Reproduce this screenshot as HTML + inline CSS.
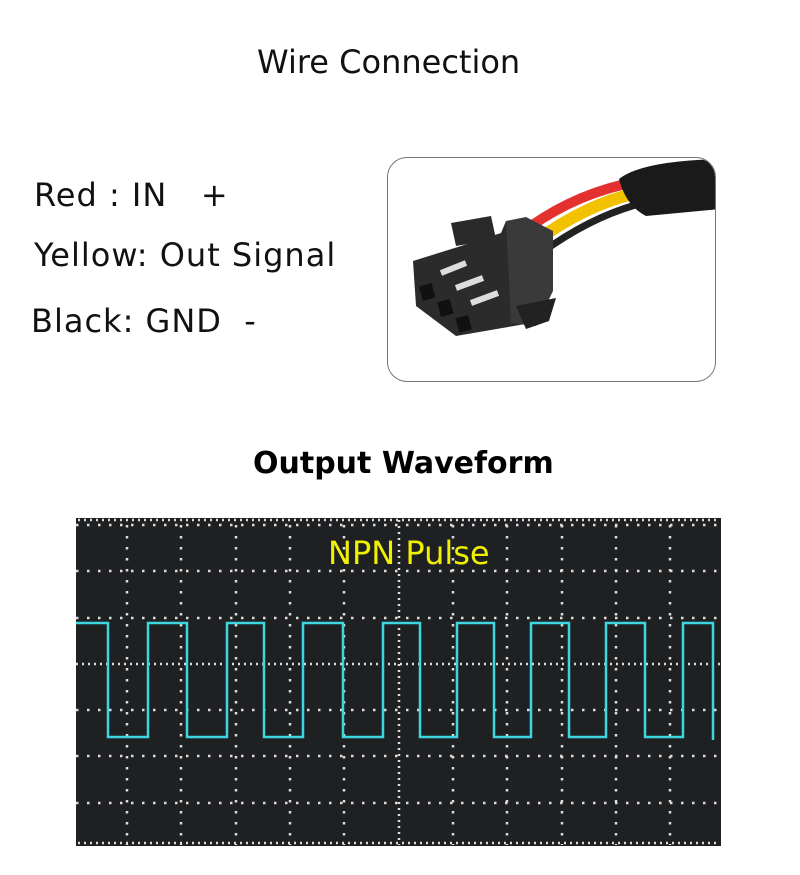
<!DOCTYPE html>
<html><head><style>
body{margin:0;width:800px;height:875px;background:#fff;position:relative;overflow:hidden;font-family:"DejaVu Sans","Liberation Sans",sans-serif;color:#111}
.t{position:absolute;white-space:nowrap}
</style></head><body>
<div class="t" style="left:257px;top:43px;font-size:32px">Wire Connection</div>
<div class="t" style="left:34px;top:176px;font-size:32px;letter-spacing:1px">Red : IN &nbsp;&nbsp;+</div>
<div class="t" style="left:34px;top:236px;font-size:32px;letter-spacing:1px">Yellow: Out Signal</div>
<div class="t" style="left:31px;top:302px;font-size:32px;letter-spacing:1px">Black: GND &nbsp;-</div>
<div style="position:absolute;left:387px;top:157px;width:327px;height:223px;border:1.5px solid #777;border-radius:20px;overflow:hidden;background:#fff">
<svg width="327" height="223" viewBox="387 157 327 223">
 <path d="M530 225 Q580 190 640 180" stroke="#e53030" stroke-width="10" fill="none"/>
 <path d="M535 240 Q590 200 645 190" stroke="#f2c200" stroke-width="12" fill="none"/>
 <path d="M540 252 Q595 212 650 200" stroke="#222" stroke-width="7" fill="none"/>
 <path d="M618 178 Q640 160 720 158 L720 208 L645 215 Q625 205 618 178 Z" fill="#1a1a1a"/>
 <polygon points="450,222 490,215 495,238 455,245" fill="#2a2a2a"/>
 <polygon points="505,220 545,228 550,280 540,310 530,322 455,335 415,305 412,260 460,245 500,232" fill="#2b2b2b"/>
 <polygon points="505,220 525,216 552,230 552,290 535,325 510,322" fill="#3a3a3a"/>
 <polygon points="515,305 555,297 548,320 525,328" fill="#222"/>
 <rect x="420" y="283" width="13" height="15" fill="#111" transform="rotate(-15 428 292)"/>
 <rect x="438" y="299" width="13" height="15" fill="#111" transform="rotate(-15 446 307)"/>
 <rect x="456" y="315" width="13" height="15" fill="#111" transform="rotate(-15 464 322)"/>
 <path d="M440 272 L465 262" stroke="#ddd" stroke-width="6"/>
 <path d="M455 287 L482 277" stroke="#ddd" stroke-width="6"/>
 <path d="M470 302 L497 292" stroke="#ddd" stroke-width="6"/>
</svg></div>
<div class="t" style="left:253px;top:446px;font-size:30px;font-weight:bold;color:#000">Output Waveform</div>
<svg style="position:absolute;left:0;top:0" width="800" height="875">
 <rect x="76" y="518" width="645" height="328" fill="#1e2022"/>
 <g stroke="#ddd" stroke-width="2.5" stroke-dasharray="2.5 8.5" fill="none">
  <path d="M76 525H720M76 571H720M76 618H720M76 710H720M76 756H720M76 803H720"/>
  <path d="M127 525V845M181 525V845M236 525V845M290 525V845M344 525V845M453 525V845M507 525V845M562 525V845M616 525V845M670 525V845"/>
 </g>
 <g stroke="#ddd" stroke-width="2.5" stroke-dasharray="2 4" fill="none">
  <path d="M76 664H720M399 520V845M78 520H720M78 843H720"/>
 </g>
 <path d="M76 623H108V737H148V623H187V737H227V623H264V737H303V623H343V737H383V623H420V737H457V623H494V737H531V623H569V737H606V623H645V737H683V623H713V740" stroke="#3cd6e0" stroke-width="2.5" fill="none"/>
</svg>
<div class="t" style="left:328px;top:534px;font-size:32px;color:#f0f000">NPN Pulse</div>
</body></html>
